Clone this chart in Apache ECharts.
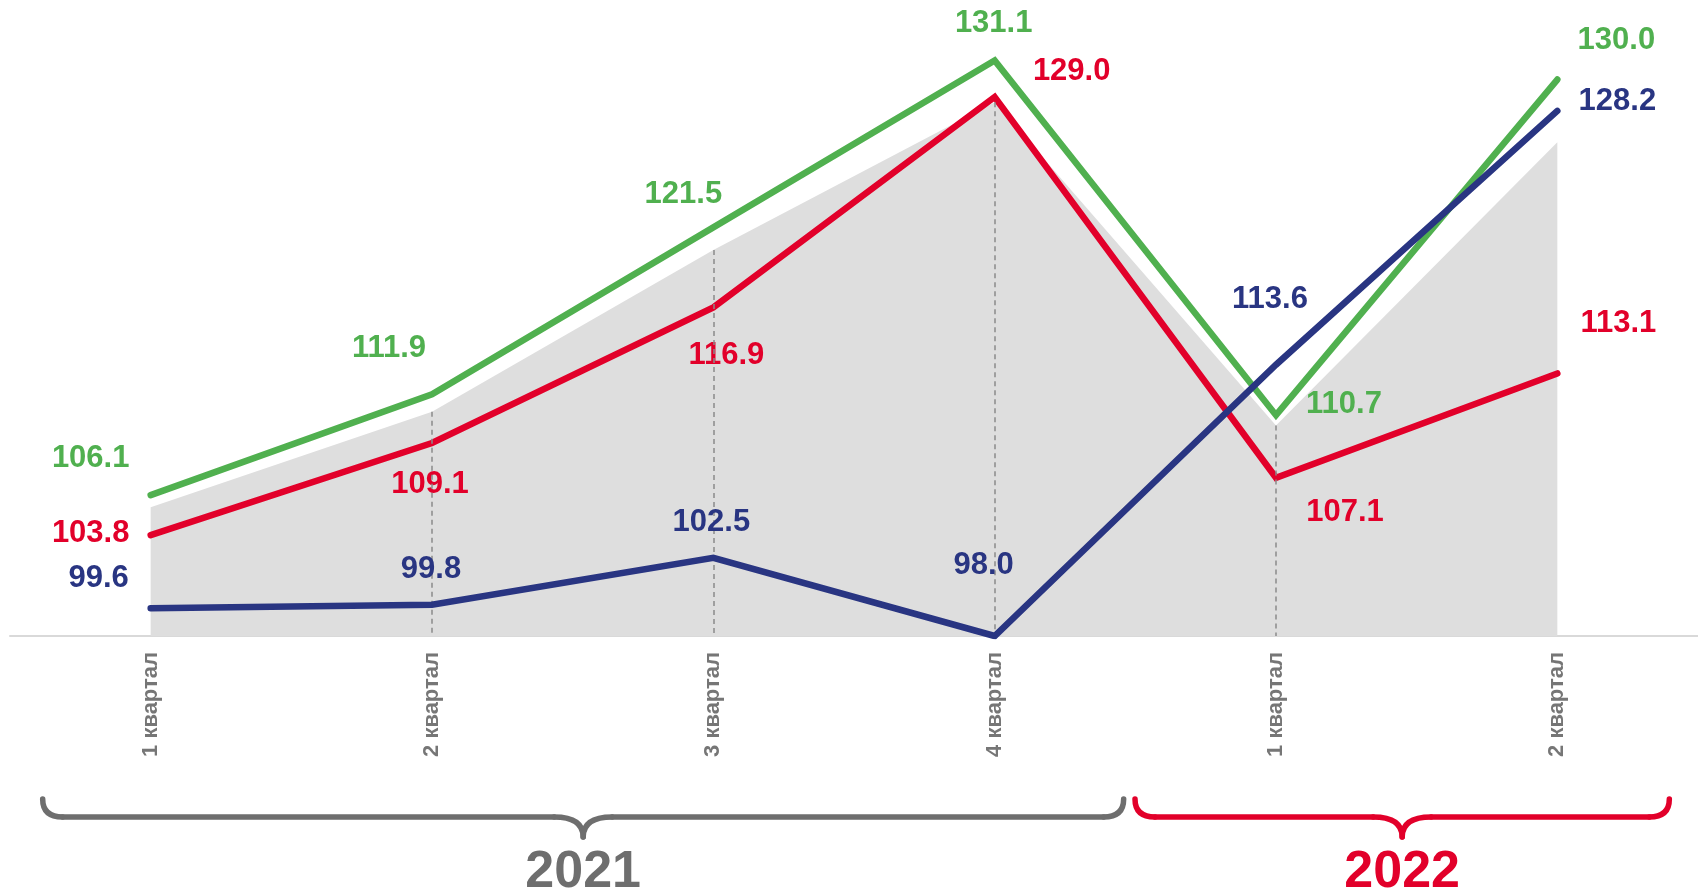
<!DOCTYPE html>
<html><head><meta charset="utf-8">
<script src="https://cdn.jsdelivr.net/npm/echarts@6/dist/echarts.min.js"></script>
<style>html,body{margin:0;padding:0;background:#fff}#c{width:1698px;height:891px}</style>
</head><body><div id="c"></div>
<script>
// ---- data ----
const categories = ['1 квартал','2 квартал','3 квартал','4 квартал','1 квартал','2 квартал'];
const years = ['2021','2022'];
const yearSpans = [[0,3],[4,5]];
const greenValues = [106.1,111.9,121.5,131.1,110.7,130.0];
const redValues   = [103.8,109.1,116.9,129.0,107.1,113.1];
const blueValues  = [99.6,99.8,102.5,98.0,113.6,128.2];
const areaValues  = [105.4,110.9,120.2,128.7,110.1,126.4];
const dropLineIdx = [1,2,3,4];
const yMin = 98, yMax = 134;

// ---- styles / label placement ----
const GREEN = '#50b04f', RED = '#e2002a', BLUE = '#293582';
const GRAY_TXT = '#6e6e6e';
const greenOffsets = [[-60,-37],[-43,-46],[-30,-33],[-1,-37],[68,-11],[59,-39]];
const redOffsets   = [[-60,-2],[-2,41],[13,48],[77,-25],[69,35],[61,-50]];
const blueOffsets  = [[-52,-30],[-1,-35],[-2,-35],[-11,-71],[-6,-65],[60,-9]];
const braceExtents = [[-108,129],[-141,112]];
const braceColors = [GRAY_TXT, RED];

function lineSeries(name, values, offsets, color, z){
  return {
    name, type:'line', data: values, z,
    symbol:'circle', symbolSize:2, showSymbol:true,
    itemStyle:{color},
    lineStyle:{color, width:6.5, cap:'round', join:'miter'},
    label:{show:true, position:'inside', color, fontSize:31, fontWeight:'bold',
      fontFamily:'Liberation Sans, Arial, sans-serif',
      formatter:p=>Number(p.value).toFixed(1)},
    labelLayout:(p)=>({dx:offsets[p.dataIndex][0], dy:offsets[p.dataIndex][1], hideOverlap:false}),
    emphasis:{disabled:true}
  };
}

const chart = echarts.init(document.getElementById('c'), null, {renderer:'canvas'});
const option = {
  animation:false,
  backgroundColor:'#ffffff',
  grid:{left:10, top:10, width:1704, bottom:255, containLabel:false},
  xAxis:{
    type:'category', data:categories, boundaryGap:true,
    axisLine:{show:true, lineStyle:{color:'#d9d9d9', width:2}},
    axisTick:{show:false},
    axisLabel:{rotate:90, margin:16, color:'#767676', fontSize:22, fontWeight:'bold',
      fontFamily:'Liberation Sans, Arial, sans-serif', interval:0},
    splitLine:{show:false}
  },
  yAxis:{type:'value', min:yMin, max:yMax, show:false, splitLine:{show:false}},
  series:[
    {
      name:'area', type:'line', data:areaValues, z:1,
      symbol:'none', lineStyle:{width:0},
      areaStyle:{color:'#dedede', opacity:1, origin:'start'},
      emphasis:{disabled:true},
      markLine:{
        silent:true, symbol:['none','none'], label:{show:false},
        lineStyle:{color:'#8a8a8a', width:1.5, type:[5,4]},
        data: dropLineIdx.map(i=>[{coord:[i, areaValues[i]]},{coord:[i, yMin]}])
      }
    },
    lineSeries('red', redValues, redOffsets, RED, 3),
    lineSeries('green', greenValues, greenOffsets, GREEN, 4),
    lineSeries('blue', blueValues, blueOffsets, BLUE, 5)
  ]
};
chart.setOption(option);

const px = i => chart.convertToPixel({xAxisIndex:0}, i);
const graphics = [];
function braceParts(L, R, C, yTop, yMid, yTip, color){
  const r = 20, t = 29;
  const st = {stroke:color, lineWidth:5.5, lineCap:'round', fill:null};
  return [
    {type:'bezierCurve', silent:true, shape:{x1:L,y1:yTop,cpx1:L,cpy1:yMid,x2:L+r,y2:yMid}, style:st},
    {type:'line', silent:true, shape:{x1:L+r,y1:yMid,x2:C-t,y2:yMid}, style:st},
    {type:'bezierCurve', silent:true, shape:{x1:C-t,y1:yMid,cpx1:C,cpy1:yMid,x2:C,y2:yTip}, style:st},
    {type:'bezierCurve', silent:true, shape:{x1:C,y1:yTip,cpx1:C,cpy1:yMid,x2:C+t,y2:yMid}, style:st},
    {type:'line', silent:true, shape:{x1:C+t,y1:yMid,x2:R-r,y2:yMid}, style:st},
    {type:'bezierCurve', silent:true, shape:{x1:R-r,y1:yMid,cpx1:R,cpy1:yMid,x2:R,y2:yTop}, style:st}
  ];
}
yearSpans.forEach((span, k)=>{
  const L = px(span[0]) + braceExtents[k][0];
  const R = px(span[1]) + braceExtents[k][1];
  const C = (L+R)/2;
  braceParts(L,R,C,799,817,837,braceColors[k]).forEach(g=>graphics.push(g));
  graphics.push({type:'text', silent:true, x:C, y:873,
    style:{text:years[k], fill:braceColors[k], font:'bold 52px "Liberation Sans", Arial, sans-serif',
      textAlign:'center', textVerticalAlign:'middle'}});
});
chart.setOption({graphic:graphics});
</script>
</body></html>
